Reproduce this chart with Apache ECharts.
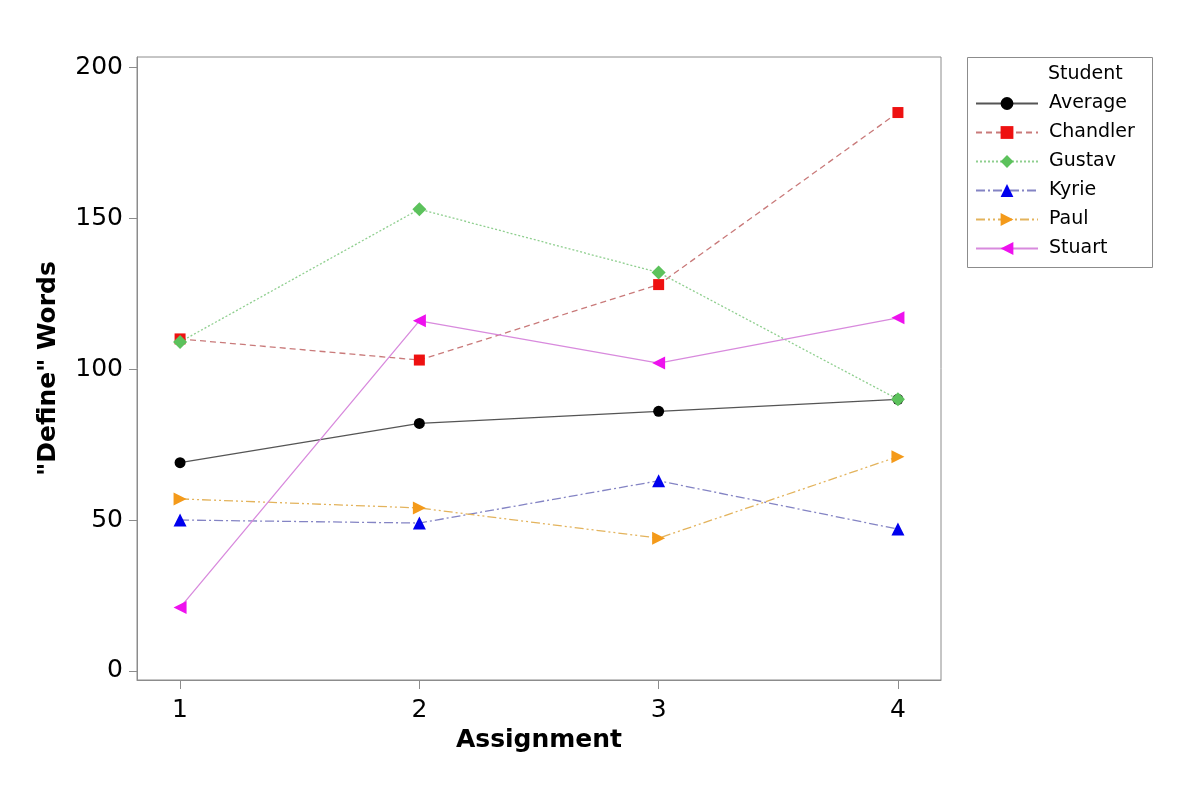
<!DOCTYPE html>
<html>
<head>
<meta charset="utf-8">
<script src="https://cdn.jsdelivr.net/npm/echarts@6/dist/echarts.min.js"></script>
<style>
  html, body { margin: 0; padding: 0; background: #fff; }
  #chart { width: 1200px; height: 790px; }
</style>
</head>
<body>
<div id="chart"></div>
<script>
// data
const assignments = [1, 2, 3, 4];
const yTicks = [0, 50, 100, 150, 200];
const average  = [69, 82, 86, 90];
const chandler = [110, 103, 128, 185];
const gustav   = [109, 153, 132, 90];
const kyrie    = [50, 49, 63, 47];
const paul     = [57, 54, 44, 71];
const stuart   = [21, 116, 102, 117];

function pts(vals) {
    return vals.map(function (v, i) { return [assignments[i], v]; });
}

function line(name, vals, lineColor, dash, markColor, symbol, size, rotate) {
    return {
        name: name,
        type: 'line',
        data: pts(vals),
        symbol: symbol,
        symbolSize: size,
        symbolRotate: rotate || 0,
        itemStyle: { color: markColor },
        lineStyle: { color: lineColor, width: 1.3, type: dash },
        emphasis: { disabled: true },
        z: 2
    };
}

var myChart = echarts.init(document.getElementById('chart'));

var font = 'DejaVu Sans';
var axisGrey = '#8c8c8c';

var option = {
    backgroundColor: '#fff',
    animation: false,
    grid: {
        left: 137, top: 57, right: 259, bottom: 110,
        show: true, borderColor: axisGrey, borderWidth: 1
    },
    xAxis: {
        type: 'value',
        min: 0.82, max: 4.18,
        name: 'Assignment',
        nameLocation: 'middle',
        nameGap: 48,
        nameTextStyle: { fontFamily: font, fontSize: 25, fontWeight: 'bold', color: '#000' },
        axisLine: { show: true, onZero: false, lineStyle: { color: axisGrey } },
        axisTick: { show: true, customValues: assignments, length: 9, lineStyle: { color: axisGrey } },
        axisLabel: { customValues: assignments, margin: 18, fontFamily: font, fontSize: 25, color: '#000' },
        splitLine: { show: false }
    },
    yAxis: {
        type: 'value',
        min: -3, max: 203.4,
        name: '"Define" Words',
        nameLocation: 'middle',
        nameGap: 76,
        nameTextStyle: { fontFamily: font, fontSize: 25, fontWeight: 'bold', color: '#000' },
        axisLine: { show: true, onZero: false, lineStyle: { color: axisGrey } },
        axisTick: { show: true, customValues: yTicks, length: 8, lineStyle: { color: axisGrey } },
        axisLabel: { customValues: yTicks, margin: 14, fontFamily: font, fontSize: 25, color: '#000' },
        splitLine: { show: false }
    },
    legend: {
        orient: 'vertical',
        left: 975,
        top: 94,
        itemWidth: 62,
        itemHeight: 16,
        itemGap: 10,
        padding: 0,
        textStyle: { fontFamily: font, fontSize: 19, color: '#000', lineHeight: 16, padding: [0, 0, 0, 6] },
        data: ['Average', 'Chandler', 'Gustav', 'Kyrie', 'Paul', 'Stuart']
    },
    graphic: [
        {
            type: 'rect',
            shape: { x: 967.5, y: 57.5, width: 185, height: 210 },
            style: { fill: 'none', stroke: axisGrey, lineWidth: 1 },
            silent: true
        },
        {
            type: 'text',
            x: 1048, y: 74,
            style: { text: 'Student', font: '19px "DejaVu Sans"', fill: '#000', verticalAlign: 'middle' },
            silent: true
        }
    ],
    series: [
        line('Average', average, '#555555', 'solid', '#000000', 'circle', 11),
        line('Chandler', chandler, '#c97a7a', [6, 4], '#ee1111', 'rect', 11),
        line('Gustav', gustav, '#8fcf8f', [2, 2], '#5cc25c', 'diamond', 14),
        line('Kyrie', kyrie, '#8484c4', [9, 3, 2, 3], '#0000ee', 'triangle', 13),
        line('Paul', paul, '#e3b35c', [9, 3, 2, 3, 2, 3], '#f49a1a', 'triangle', 13, -90),
        line('Stuart', stuart, '#d88add', 'solid', '#ee11ee', 'triangle', 13, 90)
    ]
};

myChart.setOption(option);
</script>
</body>
</html>
